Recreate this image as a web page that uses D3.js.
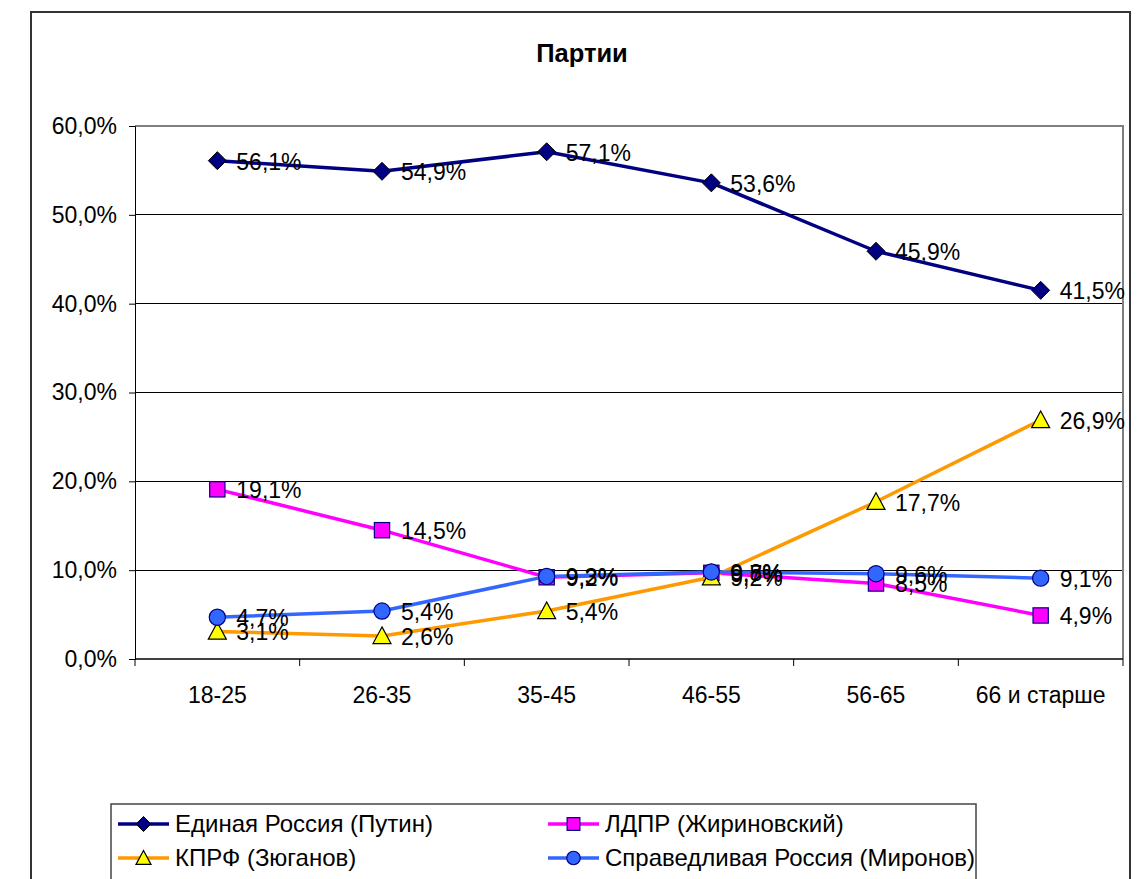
<!DOCTYPE html>
<html><head><meta charset="utf-8">
<script src="https://cdn.jsdelivr.net/npm/d3@7"></script>
<style>body{margin:0;background:#fff}text{font-family:"Liberation Sans",Arial,sans-serif}</style>
</head><body>
<svg id="c" width="1141" height="879"></svg>
<script>
const categories = ["18-25","26-35","35-45","46-55","56-65","66 и старше"];
const seriesNames = ["Единая Россия (Путин)","ЛДПР (Жириновский)","КПРФ (Зюганов)","Справедливая Россия (Миронов)"];
const valuesER    = [56.1, 54.9, 57.1, 53.6, 45.9, 41.5];
const valuesLDPR  = [19.1, 14.5, 9.2, 9.7, 8.5, 4.9];
const valuesKPRF  = [3.1, 2.6, 5.4, 9.2, 17.7, 26.9];
const valuesSR    = [4.7, 5.4, 9.3, 9.8, 9.6, 9.1];
const yTicks = [0, 10, 20, 30, 40, 50, 60];
const title = "Партии";

const series = [
  {name: seriesNames[0], values: valuesER,   color: "#000080", shape: "diamond", fill: "#000080", stroke: "#000000"},
  {name: seriesNames[1], values: valuesLDPR, color: "#FF00FF", shape: "square",  fill: "#FF00FF", stroke: "#000080"},
  {name: seriesNames[2], values: valuesKPRF, color: "#FF9900", shape: "triangle",fill: "#FFFF00", stroke: "#000000"},
  {name: seriesNames[3], values: valuesSR,   color: "#3366FF", shape: "circle",  fill: "#3366FF", stroke: "#000080"}
];

const FS = 23;
const svg = d3.select("#c");
const L = 135, R = 1123, T = 126, B = 659;
const fmt = v => v.toFixed(1).replace(".", ",") + "%";

// outer chart border
svg.append("rect").attr("x", 31).attr("y", 12).attr("width", 1099).attr("height", 950)
  .attr("fill", "#fff").attr("stroke", "#333").attr("stroke-width", 2);

svg.append("text").attr("x", 582).attr("y", 62).attr("text-anchor", "middle")
  .attr("font-size", 25.5).attr("font-weight", "bold").text(title);

const x = d3.scalePoint().domain(categories).range([L, R]).padding(0.5);
const xb = d3.scaleBand().domain(categories).range([L, R]);
const y = d3.scaleLinear().domain([0, 60]).range([B, T]);

// gridlines
svg.append("g").selectAll("line").data(yTicks.filter(t => t > 0 && t < 60)).join("line")
  .attr("x1", L).attr("x2", R).attr("y1", d => y(d)).attr("y2", d => y(d))
  .attr("stroke", "#000").attr("stroke-width", 1).attr("shape-rendering", "crispEdges");
// plot border top/right
svg.append("path").attr("d", `M${L},${T}H${R}V${B}`).attr("fill", "none")
  .attr("stroke", "#808080").attr("stroke-width", 2).attr("shape-rendering", "crispEdges");

// y axis
const yAxis = d3.axisLeft(y).tickValues(yTicks).tickSize(6).tickPadding(12).tickFormat(fmt);
const gy = svg.append("g").attr("transform", `translate(${L},0)`).call(yAxis);
gy.select(".domain").attr("stroke", "#000");
gy.selectAll("text").attr("font-size", FS).attr("fill", "#000").attr("font-family", '"Liberation Sans",Arial,sans-serif');

// x axis
const gx = svg.append("g").attr("transform", `translate(0,${B})`);
gx.append("line").attr("x1", L).attr("x2", R).attr("stroke", "#000").attr("stroke-width", 1.5);
const bounds = categories.map(c => xb(c)).concat([R]);
gx.selectAll("line.t").data(bounds).join("line").attr("class", "t")
  .attr("x1", d => d).attr("x2", d => d).attr("y1", 0).attr("y2", 7).attr("stroke", "#000");
gx.selectAll("text").data(categories).join("text")
  .attr("x", d => x(d)).attr("y", 44).attr("text-anchor", "middle").attr("font-size", FS).text(d => d);

function marker(g, shape, cx, cy, s, fill, stroke) {
  const h = s / 2;
  if (shape === "diamond") {
    g.append("path").attr("d", `M${cx},${cy-h}L${cx+h},${cy}L${cx},${cy+h}L${cx-h},${cy}Z`)
      .attr("fill", fill).attr("stroke", stroke).attr("stroke-width", 1);
  } else if (shape === "square") {
    const a = h * 0.85;
    g.append("rect").attr("x", cx - a).attr("y", cy - a).attr("width", 2*a).attr("height", 2*a)
      .attr("fill", fill).attr("stroke", stroke).attr("stroke-width", 1.2);
  } else if (shape === "triangle") {
    g.append("path").attr("d", `M${cx},${cy-h}L${cx+h},${cy+h*0.85}L${cx-h},${cy+h*0.85}Z`)
      .attr("fill", fill).attr("stroke", stroke).attr("stroke-width", 1.2);
  } else {
    g.append("circle").attr("cx", cx).attr("cy", cy).attr("r", h * 0.9)
      .attr("fill", fill).attr("stroke", stroke).attr("stroke-width", 1.2);
  }
}

const line = d3.line().x((d, i) => x(categories[i])).y(d => y(d));
series.forEach(s => {
  const g = svg.append("g");
  g.append("path").datum(s.values).attr("d", line).attr("fill", "none")
    .attr("stroke", s.color).attr("stroke-width", 3.5).attr("stroke-linejoin", "round");
  s.values.forEach((v, i) => marker(g, s.shape, x(categories[i]), y(v), 18, s.fill, s.stroke));
});
// data labels
series.forEach(s => {
  svg.append("g").selectAll("text").data(s.values).join("text")
    .attr("x", (d, i) => x(categories[i]) + 19).attr("y", d => y(d) + 9)
    .attr("font-size", FS).attr("fill", "#000").text(fmt);
});

// legend
svg.append("rect").attr("x", 111).attr("y", 804).attr("width", 865).attr("height", 120)
  .attr("fill", "#fff").attr("stroke", "#444").attr("stroke-width", 1.5);
const legPos = [[118, 824], [548, 824], [118, 858], [548, 858]];
series.forEach((s, i) => {
  const [lx, ly] = legPos[i];
  const g = svg.append("g");
  g.append("line").attr("x1", lx).attr("x2", lx + 51).attr("y1", ly).attr("y2", ly)
    .attr("stroke", s.color).attr("stroke-width", 3.5);
  marker(g, s.shape, lx + 25.5, ly, 15, s.fill, s.stroke);
  g.append("text").attr("x", lx + 57).attr("y", ly + 8).attr("font-size", 24).text(s.name);
});
</script>
</body></html>
